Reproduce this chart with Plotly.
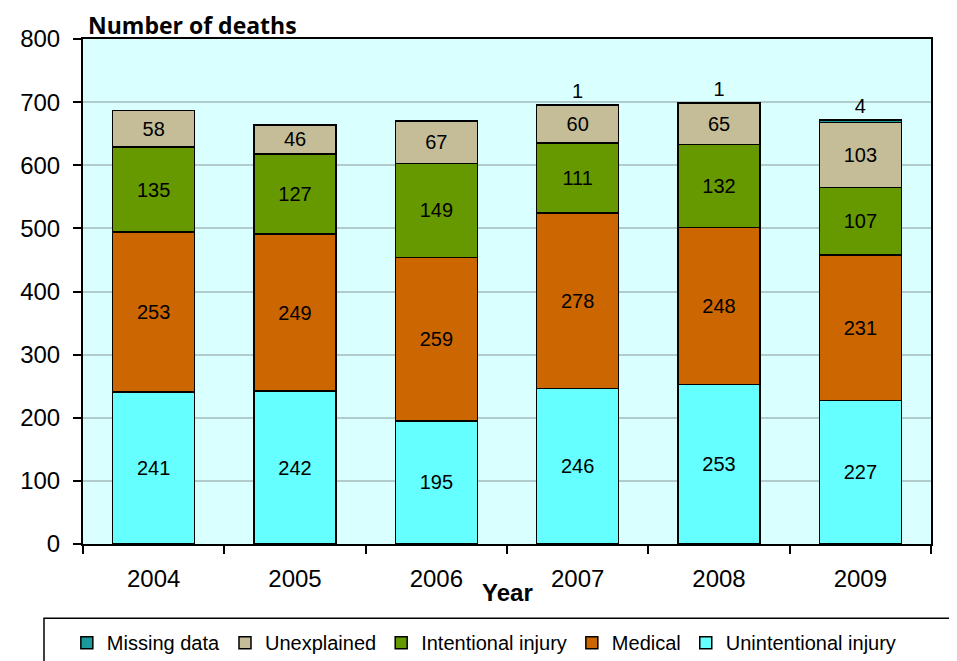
import plotly.graph_objects as go

years = ["2004", "2005", "2006", "2007", "2008", "2009"]
unintentional = [241, 242, 195, 246, 253, 227]
medical = [253, 249, 259, 278, 248, 231]
intentional = [135, 127, 149, 111, 132, 107]
unexplained = [58, 46, 67, 60, 65, 103]
missing = [0, 0, 0, 1, 1, 4]

series = [
    ("Unintentional injury", unintentional, "#66FFFF"),
    ("Medical", medical, "#CC6600"),
    ("Intentional injury", intentional, "#669900"),
    ("Unexplained", unexplained, "#C4BD97"),
    ("Missing data", missing, "#1A9A9A"),
]

fig = go.Figure()
for name, vals, col in series:
    is_top = name == "Missing data"
    fig.add_trace(go.Bar(
        x=years, y=vals, name=name,
        marker=dict(color=col, line=dict(color="black", width=1.5)),
        text=[(str(v) if v else "") for v in vals],
        textposition="outside" if is_top else "inside",
        insidetextanchor="middle",
        textangle=0,
        constraintext="none",
        textfont=dict(family="Liberation Sans, Arial", size=20, color="black"),
        cliponaxis=False,
    ))

fig.update_layout(
    barmode="stack",
    bargap=0.42,
    width=949, height=653,
    margin=dict(l=70, r=26, t=31, b=117),
    plot_bgcolor="#D9FFFF",
    paper_bgcolor="white",
    font=dict(family="Liberation Sans, Arial", color="black"),
    showlegend=True,
    legend=dict(
        orientation="h", traceorder="reversed",
        xref="container", x=0.062, xanchor="left",
        yref="container", y=0.058, yanchor="top",
        font=dict(family="Liberation Sans, Arial", size=20),
        itemwidth=30, bgcolor="rgba(0,0,0,0)",
    ),
)
fig.update_xaxes(
    showline=True, linecolor="black", linewidth=2, mirror=True,
    ticks="outside", tickson="boundaries", ticklen=8, tickcolor="black", tickwidth=1.5,
    tickfont=dict(size=24), ticklabelstandoff=12,
)
fig.update_yaxes(
    range=[0, 800], dtick=100,
    showline=True, linecolor="black", linewidth=2, mirror=True,
    ticks="outside", ticklen=8, tickcolor="black", tickwidth=1.5,
    gridcolor="#B2CCCC", gridwidth=1.5,
    tickfont=dict(size=24), ticklabelstandoff=8,
    zeroline=False,
)
fig.add_annotation(text="<b>Number of deaths</b>", xref="paper", yref="paper",
                   x=0.003, y=1.0, xanchor="left", yanchor="bottom", showarrow=False,
                   font=dict(family="Open Sans", size=23), yshift=-4)
fig.add_annotation(text="<b>Year</b>", xref="paper", yref="paper",
                   x=0.5, y=-0.097, xanchor="center", yanchor="middle", showarrow=False,
                   font=dict(family="Liberation Sans Narrow, Liberation Sans", size=24))
fig.add_shape(type="rect", xref="paper", yref="paper",
              x0=-0.046, x1=1.04, y0=-0.147, y1=-0.26,
              line=dict(color="black", width=1.5), fillcolor="rgba(0,0,0,0)")

fig.write_html("out.html")
